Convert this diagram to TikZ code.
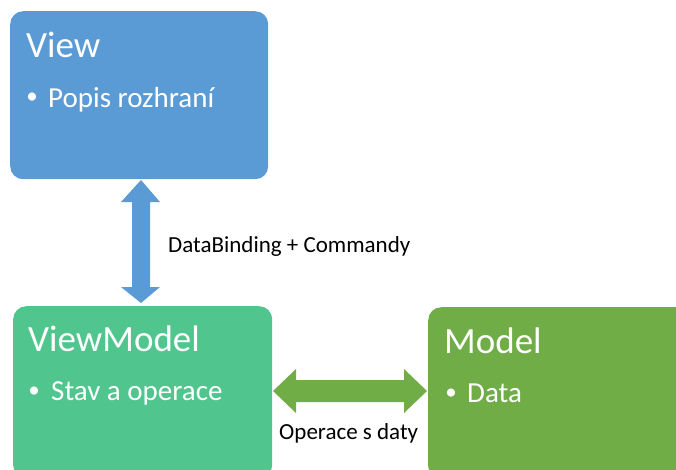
\documentclass[tikz,border=0pt]{standalone}
\usepackage{fontspec}
\setmainfont{Carlito}
\definecolor{viewblue}{HTML}{5B9BD5}
\definecolor{vmgreen}{HTML}{50C58D}
\definecolor{mgreen}{HTML}{70AD47}
\begin{document}
\begin{tikzpicture}[x=1pt,y=-1pt,
  boxstyle/.style={rounded corners=13pt, inner sep=0pt, anchor=north west, draw=none},
  titlestyle/.style={anchor=base west, inner sep=0pt, text=white, font=\fontsize{37}{40}\selectfont},
  itemstyle/.style={anchor=base west, inner sep=0pt, text=white, font=\fontsize{29}{32}\selectfont},
  bulletstyle/.style={anchor=center, inner sep=0pt, text=white, font=\fontsize{23}{26}\selectfont},
  labelstyle/.style={anchor=base west, inner sep=0pt, text=black, font=\fontsize{23}{26}\selectfont}]
\useasboundingbox (0,0) rectangle (676,469);
\clip (0,0) rectangle (676,469);
% boxes
\node[boxstyle, fill=viewblue, minimum width=258pt, minimum height=168pt] (view) at (10,11) {};
\node[boxstyle, fill=vmgreen, minimum width=259pt, minimum height=172pt] (vm) at (13,306) {};
\node[boxstyle, fill=mgreen, minimum width=270pt, minimum height=172pt] (model) at (428,307) {};
% texts
\node[titlestyle] (viewT) at (26,57) {View};
\node[bulletstyle] (viewB) at (32,98.5) {•};
\node[itemstyle] (viewI) at (48,107) {Popis rozhraní};
\node[titlestyle] (vmT) at (28,351) {ViewModel};
\node[bulletstyle] (vmB) at (34,392.5) {•};
\node[itemstyle] (vmI) at (51,400) {Stav a operace};
\node[titlestyle] (mT) at (444,353) {Model};
\node[bulletstyle] (mB) at (451,394.5) {•};
\node[itemstyle] (mI) at (467,402) {Data};
% connectors
\coordinate (a1) at (141,180);
\coordinate (a2) at (141,303);
\fill[viewblue] (a1) -- ++(-20,22) -- ++(11,0) -- ++(0,85) -- ++(-11,0) -- (a2)
  -- ++(19,-16) -- ++(-10,0) -- ++(0,-85) -- ++(10,0) -- cycle;
\coordinate (b1) at (273,391);
\coordinate (b2) at (427,391);
\fill[mgreen] (b1) -- ++(23,-22) -- ++(0,11) -- ++(108,0) -- ++(0,-11) -- (b2)
  -- ++(-23,22) -- ++(0,-11) -- ++(-108,0) -- ++(0,11) -- cycle;
\node[labelstyle] (dbL) at (168,252) {DataBinding + Commandy};
\node[labelstyle] (opL) at (279,439) {Operace s daty};
\end{tikzpicture}
\end{document}
